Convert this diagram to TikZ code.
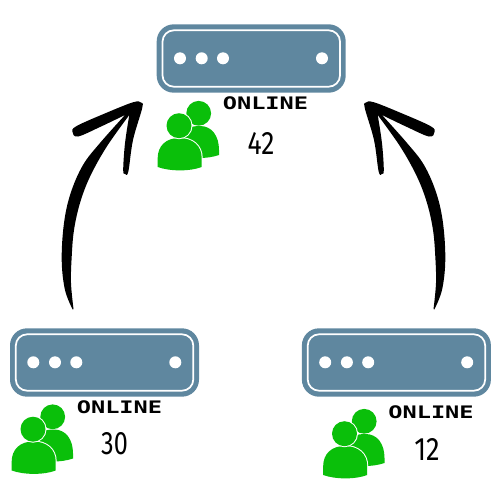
\documentclass[tikz,border=0pt]{standalone}
\usepackage{fontspec}
\usepackage{graphicx}
\newfontfamily\labelfont{DejaVu Sans Mono}
\newfontfamily\numfont{Fira Sans}
\definecolor{srv}{HTML}{5F879F}
\definecolor{ppl}{HTML}{0ABF0A}
\tikzset{
  serverbody/.style={fill=srv,rounded corners=12.8pt},
  serverline/.style={draw=white,line width=1.3pt,rounded corners=8.5pt},
  leddot/.style={fill=white},
  person/.style={fill=ppl},
  personhalo/.style={draw=white,line width=1.5pt,fill=white},
  personhead/.style={fill=ppl},
  onlinetext/.style={inner sep=0pt,anchor=center,text=black},
  counttext/.style={inner sep=0pt,anchor=center,text=black},
  brush/.style={fill=black}
}
\newcommand{\frontbody}{(157.7,167) -- (157.7,158) .. controls (157.7,146) and (166,138) .. (179,138)
      .. controls (193,138) and (201.7,146) .. (201.7,158) -- (201.7,167)
      .. controls (190,171.5) and (170,171.5) .. (157.7,167) -- cycle}
\newcommand{\serverat}[2]{%
  \begin{scope}[shift={(#1,#2)}]
    \fill[serverbody] (156.7,24.3) rectangle (345.7,92.7);
    \draw[serverline] (162.5,30.3) rectangle (340,86.7);
    \foreach \dx in {180,201.7,223,322} \fill[leddot] (\dx,58.3) circle (6);
  \end{scope}}
\newcommand{\peopleat}[2]{%
  \begin{scope}[shift={(#1,#2)}]
    \fill[personhead] (198.7,113.3) circle (12.4);
    \fill[personhead] (178,157) -- (178,135) .. controls (184,128) and (192,126) .. (200,126)
      .. controls (212,126) and (219,136) .. (219,150) -- (219,155)
      .. controls (213,157) and (207,158) .. (198,158) -- cycle;
    \path[personhalo] \frontbody;
    \path[person] \frontbody;
    \path[personhalo] (179,125.7) circle (12.5);
    \path[person] (179,125.7) circle (12.5);
  \end{scope}}
\newcommand{\brusharrow}{%
  \fill[brush]
    plot[smooth,tension=0.6] coordinates {(72.7,309.5) (65,290) (61.7,260) (64,223) (70.7,193) (83,165) (100,143) (125,115)}
    -- plot[smooth,tension=0.6] coordinates {(125,115) (100,127) (78,136.5) (72.5,132) (76.7,126) (106.7,112.7) (133,102.3) (141,102.5) (142.2,108) (133,140) (128.3,171.7) (125,173.8) (123.2,170) (125,143.3) (129.3,115)}
    -- plot[smooth,tension=0.6] coordinates {(129.3,115) (106.7,146.7) (90,176.7) (80,203) (74,230) (71.7,256.7) (71,283) (73.5,309)}
    -- cycle;}
\begin{document}
\begin{tikzpicture}[x=0.75pt,y=-0.75pt]
\useasboundingbox (0,0) rectangle (500,500);
\serverat{0}{0}
\serverat{-146.7}{304}
\serverat{145.2}{304}
\peopleat{0}{0}
\peopleat{-146}{303.5}
\peopleat{165.5}{308}
\node[onlinetext] (onlineA) at (265.5,103.5) {\resizebox{64pt}{9.6pt}{\labelfont\bfseries ONLINE}};
\node[onlinetext] (onlineB) at (119.5,407.5) {\resizebox{64pt}{9.6pt}{\labelfont\bfseries ONLINE}};
\node[onlinetext] (onlineC) at (431,412.5) {\resizebox{64pt}{9.6pt}{\labelfont\bfseries ONLINE}};
\node[counttext] (countA) at (261,143) {\resizebox{20pt}{16.5pt}{\numfont 42}};
\node[counttext] (countB) at (114.5,443.5) {\resizebox{20pt}{16.5pt}{\numfont 30}};
\node[counttext] (countC) at (427,449) {\resizebox{19pt}{16.5pt}{\numfont 12}};
\brusharrow
\begin{scope}[shift={(507,0)},xscale=-1]
\brusharrow
\end{scope}
\end{tikzpicture}
\end{document}
